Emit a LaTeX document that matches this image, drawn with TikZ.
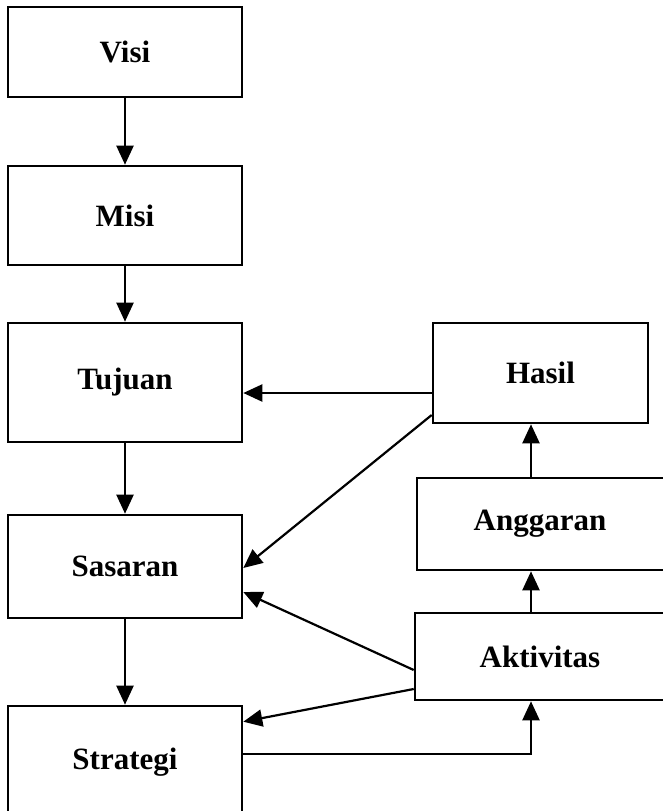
\documentclass[tikz,border=0pt]{standalone}
\usepackage{fontspec}
\setmainfont{Liberation Serif}
\usetikzlibrary{arrows.meta}

\begin{document}
\begin{tikzpicture}[x=1pt,y=-1pt,>={Triangle[length=19pt,width=17pt]},line join=miter,
		box/.style={draw,line width=2.6pt,minimum width=234pt,inner sep=0pt,font=\fontsize{31}{36}\selectfont\bfseries},
		link/.style={->,line width=2.2pt}]
		\useasboundingbox (0,0) rectangle (662,811);
		% kolom kiri
		\node[box,minimum height=90pt] (visi) at (125,52) {Visi};
		\node[box,minimum height=99pt] (misi) at (125,215.5) {Misi};
		\node[box,minimum height=119pt] (tujuan) at (125,382.5) {Tujuan};
		\node[box,minimum height=103pt] (sasaran) at (125,566.5) {Sasaran};
		\node[box,minimum height=112pt] (strategi) at (125,762) {Strategi};
		% kolom kanan
		\node[box,minimum width=215pt,minimum height=100pt] (hasil) at (540.5,373) {Hasil};
		\node[box,minimum width=256pt,minimum height=92pt] (anggaran) at (545,524) {\hspace*{-10pt}Anggaran};
		\node[box,minimum width=260pt,minimum height=87pt] (aktivitas) at (545,656.5) {\hspace*{-10pt}Aktivitas};
		% panah
		\draw[link] (visi) -- (misi);
		\draw[link] (misi) -- (tujuan);
		\draw[link] (tujuan) -- (sasaran);
		\draw[link] (sasaran) -- (strategi);
		\draw[link] ([yshift=-20pt]hasil.west) -- ([yshift=-20pt]hasil.west -| tujuan.east);
		\draw[link] ([yshift=-42pt]hasil.west) -- ([yshift=-1.5pt]sasaran.east);
		\draw[link] ([yshift=-13.5pt]aktivitas.west) -- ([yshift=-25.5pt]sasaran.east);
		\draw[link] ([yshift=-32.5pt]aktivitas.west) -- ([yshift=-17pt]strategi.north east);
		\draw[link] ([yshift=-49pt]strategi.north east) -| ([xshift=-14pt]aktivitas.south);
		\draw[link] ([xshift=-14pt]aktivitas.north) -- ([xshift=-14pt]anggaran.south);
		\draw[link] ([xshift=-14pt]anggaran.north) -- ([xshift=-14pt]anggaran.north |- hasil.south);
	\end{tikzpicture}
\end{document}
